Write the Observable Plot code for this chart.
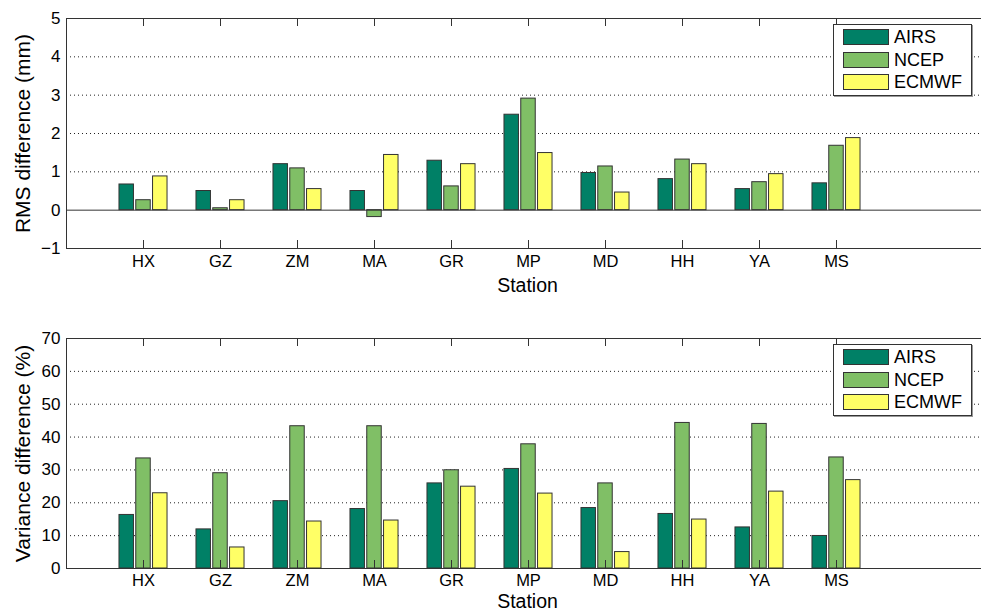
<!DOCTYPE html>
<html>
<head>
<meta charset="utf-8">
<script src="https://cdn.jsdelivr.net/npm/d3@7"></script>
<script src="https://cdn.jsdelivr.net/npm/@observablehq/plot@0.6"></script>
<style>
  html, body { margin: 0; padding: 0; background: #fff; }
  body { width: 981px; height: 611px; overflow: hidden; font-family: "Liberation Sans", Arial, sans-serif; }
  .panel { position: relative; width: 981px; }
  .legend { position: absolute; background: #fff; border: 1px solid #333; box-shadow: 1px 1px 0 #999; box-sizing: border-box; }
  .legend .row { position: absolute; left: 0; height: 18px; display: flex; align-items: center; }
  .legend .sw { width: 46px; height: 16px; border: 1px solid #333; box-sizing: border-box; margin-left: 9px; }
  .legend .lb { font-size: 18px; margin-left: 5px; color: #000; line-height: 18px; }
</style>
</head>
<body>
<div id="top" class="panel" style="height:300px"></div>
<div id="bot" class="panel" style="height:311px"></div>
<script>
const stations = ["HX","GZ","ZM","MA","GR","MP","MD","HH","YA","MS"];
const series = ["AIRS","NCEP","ECMWF"];
const colors = ["#008066","#80bf66","#ffff66"];

const rmsAIRS  = [0.67,0.50,1.20,0.50,1.29,2.49,0.97,0.81,0.55,0.70];
const rmsNCEP  = [0.26,0.05,1.09,-0.18,0.62,2.91,1.14,1.32,0.73,1.68];
const rmsECMWF = [0.88,0.26,0.55,1.44,1.20,1.49,0.46,1.20,0.94,1.88];

const varAIRS  = [16.3,11.9,20.5,18.1,25.9,30.3,18.4,16.6,12.5,9.9];
const varNCEP  = [33.5,29.0,43.3,43.3,29.9,37.8,25.9,44.3,44.0,33.8];
const varECMWF = [22.9,6.4,14.3,14.6,24.9,22.8,5.0,14.9,23.4,26.9];

const rmsTicks = [-1,0,1,2,3,4,5];
const varTicks = [0,10,20,30,40,50,60,70];

const FONT = '"Liberation Sans", Arial, sans-serif';
const AX = "#333";
const offsets = [-0.218, 0, 0.218];
const halfW = 0.094;

function buildRows(valsList) {
  const rows = [];
  series.forEach((s, si) => {
    valsList[si].forEach((v, i) => {
      rows.push({station: stations[i], idx: i + 1, series: s, value: v, off: offsets[si]});
    });
  });
  return rows;
}

function chart({el, height, marginTop, marginBottom, domain, ticks, grid, label, valsList, baseline, titleDy, xPad}) {
  const W = 981, mL = 66;
  const innerH = height - marginTop - marginBottom;
  const tickUnits = (domain[1] - domain[0]) * 8 / innerH;
  const idxs = stations.map((d, i) => i + 1);
  const rows = buildRows(valsList);
  const marks = [
    Plot.ruleY(grid, {y: d => d, stroke: "#222", strokeDasharray: "1,3", strokeWidth: 1}),
    Plot.rect(rows, {
      x1: d => d.idx + d.off - halfW,
      x2: d => d.idx + d.off + halfW,
      y1: 0,
      y2: d => d.value,
      fill: d => d.series,
      stroke: "#333",
      strokeWidth: 1
    }),
    baseline ? Plot.ruleY([0], {stroke: AX, strokeWidth: 1}) : null,
    Plot.ruleY([domain[0], domain[1]], {y: d => d, stroke: AX, strokeWidth: 1}),
    Plot.ruleX([0], {x: d => d, stroke: AX, strokeWidth: 1}),
    Plot.ruleX(idxs, {x: d => d, y1: domain[0], y2: domain[0] + tickUnits, stroke: AX}),
    Plot.ruleX(idxs, {x: d => d, y1: domain[1] - tickUnits, y2: domain[1], stroke: AX}),
    Plot.axisY(ticks, {anchor: "left", tickSize: 0, tickPadding: 6, fontSize: 17, label: label,
      labelAnchor: "center", labelArrow: "none", labelOffset: 51, fill: "#000"}),
    Plot.axisX(idxs, {anchor: "bottom", tickSize: 0, tickPadding: xPad, fontSize: 16.5, label: null,
      tickFormat: d => stations[d - 1], fill: "#000"}),
    Plot.text(["Station"], {frameAnchor: "bottom", lineAnchor: "bottom", dy: titleDy, dx: 3.5,
      fontSize: 19.5, fill: "#000", text: d => d})
  ].filter(Boolean);

  const p = Plot.plot({
    width: W,
    height,
    marginLeft: mL,
    marginRight: 0,
    marginTop,
    marginBottom,
    style: {fontFamily: FONT, background: "transparent", color: "#000", overflow: "visible"},
    x: {type: "linear", domain: [0, 12], range: [mL, mL + 924]},
    y: {domain, range: [height - marginBottom, marginTop]},
    color: {domain: series, range: colors},
    marks
  });
  p.querySelectorAll('g[aria-label="y-axis label"] text, g[aria-label="y-axis label"]').forEach(n => n.setAttribute("font-size", 21));
  el.appendChild(p);

  // legend
  const lg = document.createElement("div");
  lg.className = "legend";
  lg.style.left = "833px";
  lg.style.top = (marginTop + 5.5) + "px";
  lg.style.width = "139px";
  lg.style.height = "72px";
  series.forEach((s, i) => {
    const r = document.createElement("div");
    r.className = "row";
    r.style.top = (3.5 + i * 22.5) + "px";
    const sw = document.createElement("div");
    sw.className = "sw";
    sw.style.background = colors[i];
    const lb = document.createElement("span");
    lb.className = "lb";
    lb.textContent = s;
    r.appendChild(sw); r.appendChild(lb);
    lg.appendChild(r);
  });
  el.appendChild(lg);
}

chart({
  el: document.getElementById("top"),
  height: 300, marginTop: 18, marginBottom: 52,
  domain: [-1, 5], ticks: rmsTicks, grid: [1,2,3,4],
  label: "RMS difference (mm)",
  valsList: [rmsAIRS, rmsNCEP, rmsECMWF], baseline: true, titleDy: 43.5, xPad: 6.5
});
chart({
  el: document.getElementById("bot"),
  height: 311, marginTop: 38, marginBottom: 43,
  domain: [0, 70], ticks: varTicks, grid: [10,20,30,40,50,60],
  label: "Variance difference (%)",
  valsList: [varAIRS, varNCEP, varECMWF], baseline: false, titleDy: 39.3, xPad: 5.5
});
</script>
</body>
</html>
